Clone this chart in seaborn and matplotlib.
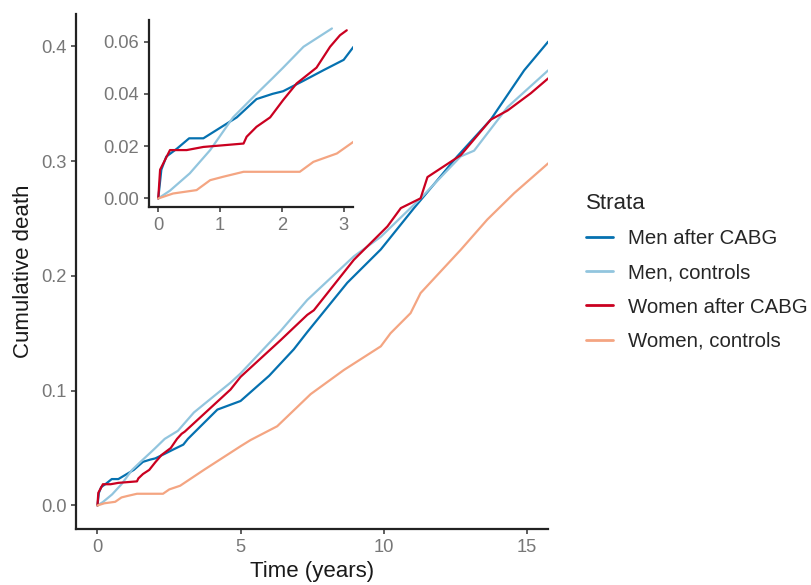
import matplotlib
matplotlib.use("Agg")
import matplotlib.pyplot as plt
import numpy as np
import pandas as pd
import seaborn as sns

# ── Data ──────────────────────────────────────────────────────────────────────

STRATA = ["Men after CABG", "Men, controls", "Women after CABG", "Women, controls"]
COLORS = ["#0571b0", "#92c5de", "#ca0020", "#f4a582"]

men_cabg_t = [0, 0.05, 0.13, 0.3, 0.5, 0.73, 1.0, 1.27, 1.59, 1.85, 2.02, 2.35, 2.67, 3.0,
              3.16, 4.19, 5.0, 6.0, 6.86, 7.33, 8.73, 9.9, 11.06, 12.0, 12.57, 13.74,
              14.91, 15.75]
men_cabg_y = [0, 0.011, 0.016, 0.019, 0.023, 0.023, 0.027, 0.031, 0.038, 0.040, 0.041,
              0.045, 0.049, 0.053, 0.058, 0.0835, 0.091, 0.113, 0.136, 0.151, 0.194,
              0.223, 0.259, 0.287, 0.304, 0.336, 0.379, 0.404]

men_ctrl_t = [0, 0.19, 0.51, 0.84, 1.21, 1.59, 1.85, 2.02, 2.35, 2.81, 3.37, 4.65, 5.0,
              6.4, 7.33, 8.96, 9.9, 11.29, 12.69, 13.16, 14.33, 15.75]
men_ctrl_y = [0, 0.003, 0.0096, 0.0185, 0.031, 0.040, 0.046, 0.050, 0.058, 0.065, 0.081,
              0.107, 0.115, 0.152, 0.179, 0.217, 0.234, 0.2675, 0.304, 0.309, 0.347, 0.379]

women_cabg_t = [0, 0.03, 0.19, 0.46, 0.73, 1.38, 1.43, 1.59, 1.81, 2.02, 2.24, 2.56, 2.78,
                2.94, 3.05, 4.65, 5.0, 6.4, 7.33, 7.56, 8.96, 10.13, 10.6, 11.29, 11.53,
                12.69, 13.74, 14.33, 15.14, 15.75]
women_cabg_y = [0, 0.011, 0.0185, 0.0185, 0.0197, 0.021, 0.0236, 0.0274, 0.031, 0.0376,
                0.044, 0.050, 0.058, 0.0624, 0.0643, 0.101, 0.112, 0.144, 0.166, 0.170,
                0.214, 0.243, 0.259, 0.2675, 0.286, 0.305, 0.336, 0.344, 0.359, 0.372]

women_ctrl_t = [0, 0.24, 0.62, 0.84, 1.05, 1.38, 2.29, 2.51, 2.89, 3.16, 3.72, 5.0, 5.35,
                6.28, 7.45, 8.61, 9.9, 10.24, 10.94, 11.29, 12.69, 13.62, 14.56, 15.75]
women_ctrl_y = [0, 0.0019, 0.0032, 0.007, 0.0083, 0.0102, 0.0102, 0.014, 0.0172, 0.0217,
                0.031, 0.0516, 0.057, 0.069, 0.097, 0.118, 0.1386, 0.150, 0.1675, 0.185,
                0.2226, 0.249, 0.272, 0.298]

MAIN_XTICKS = [0, 5, 10, 15]
MAIN_YTICKS = [0.0, 0.1, 0.2, 0.3, 0.4]
INSET_XTICKS = [0, 1, 2, 3]
INSET_YTICKS = [0.00, 0.02, 0.04, 0.06]
INSET_YMAX = 0.065

frames = []
for name, t, y in [
    (STRATA[0], men_cabg_t, men_cabg_y),
    (STRATA[1], men_ctrl_t, men_ctrl_y),
    (STRATA[2], women_cabg_t, women_cabg_y),
    (STRATA[3], women_ctrl_t, women_ctrl_y),
]:
    frames.append(pd.DataFrame({"time": t, "cum": y, "Strata": name}))
df = pd.concat(frames, ignore_index=True)

# ── Style ─────────────────────────────────────────────────────────────────────

sns.set_theme(style="ticks")
plt.rcParams.update({
    "font.family":       ["Liberation Sans", "DejaVu Sans"],
    "axes.spines.top":   False,
    "axes.spines.right": False,
    "axes.edgecolor":    "#222222",
    "axes.linewidth":    1.6,
    "xtick.color":       "#333333",
    "ytick.color":       "#333333",
    "xtick.labelcolor":  "#777777",
    "ytick.labelcolor":  "#777777",
    "xtick.major.size":  3.5,
    "ytick.major.size":  3.5,
    "xtick.major.width": 1.1,
    "ytick.major.width": 1.1,
    "xtick.major.pad":   3.5,
    "ytick.major.pad":   3.5,
})

palette = dict(zip(STRATA, COLORS))
TICK_FS = 13.2

fig = plt.figure(figsize=(8.11, 5.85), dpi=100)
ax = fig.add_axes([0.0937, 0.0957, 0.5823, 0.8803])

sns.lineplot(data=df, x="time", y="cum", hue="Strata", hue_order=STRATA,
             palette=palette, estimator=None, sort=False, linewidth=1.6, ax=ax)

ax.set_xlim(-0.75, 15.75)
ax.set_ylim(-0.0205, 0.428)
ax.set_xticks(MAIN_XTICKS)
ax.set_xticklabels([str(v) for v in MAIN_XTICKS])
ax.set_yticks(MAIN_YTICKS)
ax.set_yticklabels([f"{v:.1f}" for v in MAIN_YTICKS])
ax.tick_params(labelsize=TICK_FS)
ax.set_xlabel("Time (years)", fontsize=16, color="#1a1a1a", labelpad=4)
ax.set_ylabel("Cumulative death", fontsize=16, color="#1a1a1a", labelpad=5)

handles, labels = ax.get_legend_handles_labels()
ax.get_legend().remove()
leg = fig.legend(handles, labels, title="Strata", loc="center left",
                 bbox_to_anchor=(0.700, 0.535), frameon=False, fontsize=14.7,
                 title_fontsize=16, handlelength=1.32, labelspacing=0.74,
                 handletextpad=0.75)
leg._legend_box.align = "left"
for line in leg.get_lines():
    line.set_linewidth(2)

# ── Inset: first three years ─────────────────────────────────────────────────

ins = fig.add_axes([0.1837, 0.6462, 0.2515, 0.3197])
df_in = df[df["cum"] <= INSET_YMAX]
sns.lineplot(data=df_in, x="time", y="cum", hue="Strata", hue_order=STRATA,
             palette=palette, estimator=None, sort=False, linewidth=1.6,
             legend=False, ax=ins)
ins.set_xlim(-0.15, 3.15)
ins.set_ylim(-0.00325, 0.06825)
ins.set_xticks(INSET_XTICKS)
ins.set_xticklabels([str(v) for v in INSET_XTICKS])
ins.set_yticks(INSET_YTICKS)
ins.set_yticklabels([f"{v:.2f}" for v in INSET_YTICKS])
ins.tick_params(labelsize=TICK_FS)
ins.set_xlabel("")
ins.set_ylabel("")
ins.patch.set_alpha(0)

fig.savefig("out.png", dpi=100)
